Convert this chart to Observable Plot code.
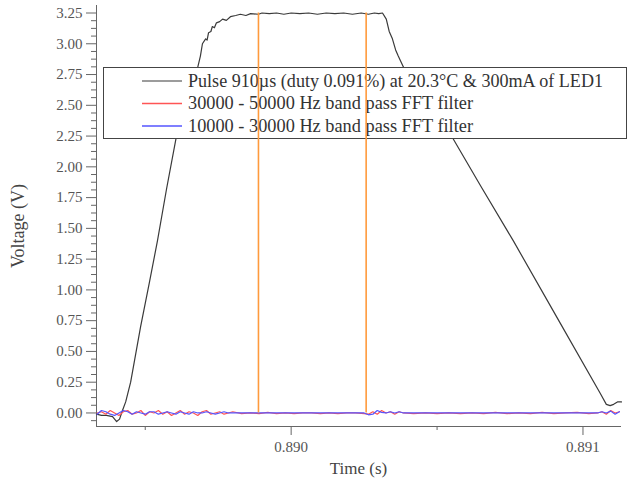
<!DOCTYPE html>
<html>
<head>
<meta charset="utf-8">
<script src="https://cdn.jsdelivr.net/npm/d3@7"></script>
<script src="https://cdn.jsdelivr.net/npm/@observablehq/plot@0.6"></script>
<style>
  body { margin: 0; background: #fff; }
  #chart svg { display: block; background: #fff; }
</style>
</head>
<body>
<div id="chart"></div>
<script>
// ---- data ----
const pulseT = [0.889333,0.889350,0.889367,0.889388,0.889402,0.889412,0.889422,0.889433,0.889450,0.889484,
  0.889515,0.889542,0.889573,0.889607,0.889641,0.889665,0.889679,0.889689,0.889696,0.889707,
  0.889712,0.889717,0.889725,0.889730,0.889737,0.889744,0.889755,0.889765,0.889778,0.889792,
  0.889810,0.889826,0.889845,0.889861,0.889888,0.889900,0.889925,0.889950,0.889975,0.890000,
  0.890030,0.890060,0.890090,0.890120,0.890150,0.890180,0.890210,0.890240,0.890265,0.890285,
  0.890300,0.890313,0.890326,0.890336,0.890347,0.890358,0.890367,0.890385,0.890443,0.890552,
  0.890648,0.890761,0.890922,0.891059,0.891080,0.891093,0.891105,0.891118,0.891132];
const pulseV = [-0.01,-0.02,-0.02,-0.03,-0.07,-0.05,0.02,0.09,0.25,0.70,
  1.07,1.40,1.82,2.25,2.56,2.72,2.80,2.90,3.00,3.04,
  3.03,3.09,3.10,3.14,3.13,3.17,3.18,3.20,3.19,3.22,
  3.23,3.24,3.23,3.245,3.24,3.25,3.245,3.25,3.24,3.25,
  3.245,3.25,3.24,3.25,3.245,3.25,3.24,3.25,3.24,3.25,
  3.245,3.25,3.20,3.10,3.04,2.95,2.90,2.81,2.61,2.24,
  1.85,1.40,0.73,0.16,0.07,0.06,0.07,0.09,0.09];

const noiseT = [0.889335,0.889350,0.889365,0.889380,0.889395,0.889410,0.889425,0.889440,0.889455,0.889470,
  0.889485,0.889500,0.889515,0.889530,0.889545,0.889560,0.889575,0.889590,0.889605,0.889620,
  0.889635,0.889650,0.889665,0.889680,0.889695,0.889710,0.889725,0.889740,0.889755,0.889770,
  0.889785,0.889800,
  0.889830,0.889860,0.889890,0.889920,0.889950,0.889980,0.890010,0.890040,0.890070,0.890100,
  0.890130,0.890160,0.890190,0.890220,0.890250,
  0.890265,0.890280,0.890295,0.890310,0.890325,0.890340,0.890355,0.890370,0.890385,
  0.890420,0.890460,0.890500,0.890540,0.890580,0.890620,0.890660,0.890700,0.890740,0.890780,
  0.890820,0.890860,0.890900,0.890940,0.890980,0.891020,0.891050,
  0.891065,0.891080,0.891095,0.891110,0.891125];
const redV = [0.00,0.01,-0.01,0.02,0.00,-0.02,0.01,0.02,-0.01,0.00,
  0.02,-0.02,0.01,0.00,0.02,-0.01,0.01,-0.02,0.00,0.02,
  -0.01,0.01,0.00,-0.02,0.01,0.02,-0.01,0.00,0.01,-0.01,
  0.00,0.01,
  -0.005,0.00,-0.005,0.005,-0.005,0.00,-0.005,0.00,0.00,-0.005,
  0.00,-0.005,0.00,0.00,-0.005,
  -0.01,0.01,-0.01,0.02,0.00,0.01,-0.01,0.01,0.00,
  -0.005,0.00,-0.005,0.00,-0.005,0.00,-0.005,0.005,-0.005,0.00,
  -0.005,0.005,-0.005,0.00,0.005,-0.005,0.00,
  0.01,-0.01,0.02,0.00,0.01];
const blueV = [-0.01,0.02,0.01,-0.01,-0.02,0.00,0.02,0.01,-0.01,0.01,
  0.00,-0.01,0.01,0.01,-0.01,0.00,0.01,0.00,-0.01,0.01,
  0.00,-0.01,0.01,0.00,0.00,0.01,0.00,-0.01,0.00,0.01,
  0.00,0.00,
  0.00,0.00,0.00,0.00,0.00,0.00,0.00,0.00,0.00,0.00,
  0.00,0.00,0.00,0.00,0.00,
  -0.015,-0.01,0.02,0.005,0.00,0.01,0.00,0.01,0.00,
  0.00,0.00,0.00,0.00,0.00,0.00,0.00,0.00,0.00,0.00,
  0.00,0.00,0.00,0.00,0.00,0.00,0.00,
  0.01,0.00,0.015,-0.01,0.01];

const markerT = [0.889888, 0.890257];
const markerV = [0, 3.25];

const yTicks = [0,0.25,0.5,0.75,1,1.25,1.5,1.75,2,2.25,2.5,2.75,3,3.25];
const yMinor = [0.0625,0.125,0.1875,0.3125,0.375,0.4375,0.5625,0.625,0.6875,0.8125,0.875,0.9375,
  1.0625,1.125,1.1875,1.3125,1.375,1.4375,1.5625,1.625,1.6875,1.8125,1.875,1.9375,
  2.0625,2.125,2.1875,2.3125,2.375,2.4375,2.5625,2.625,2.6875,2.8125,2.875,2.9375,
  3.0625,3.125,3.1875,-0.0625];
const xTicks = [0.890, 0.891];
const xMinor = [0.8895, 0.8905];
const xDomain = [0.889333, 0.891132];
const yDomain = [-0.11, 3.311];

const seriesLabels = [
  "Pulse 910µs (duty 0.091%) at 20.3°C & 300mA of LED1",
  "30000 - 50000 Hz band pass FFT filter",
  "10000 - 30000 Hz band pass FFT filter"
];
const seriesColors = ["#3a3a3a", "#ff5555", "#5555ff"];
const markerColor = "#ff9a3c";

// ---- build tables ----
const pulse = pulseT.map((t, i) => ({t, v: pulseV[i]}));
const red = noiseT.map((t, i) => ({t, v: redV[i]}));
const blue = noiseT.map((t, i) => ({t, v: blueV[i]}));

const W = 631, H = 480;
const mL = 96, mR = 10, mT = 5, mB = 54;
const serif = "'Liberation Serif', 'Times New Roman', serif";

const chart = Plot.plot({
  width: W, height: H,
  marginLeft: mL, marginRight: mR, marginTop: mT, marginBottom: mB,
  x: {domain: xDomain},
  y: {domain: yDomain},
  style: {fontFamily: serif, fontSize: "15px", color: "#555", background: "#fff"},
  marks: [
    Plot.axisY({ticks: yMinor, tickSize: 5, tickFormat: () => "", label: null, stroke: "#666"}),
    Plot.axisY({ticks: yTicks, tickSize: 10, tickPadding: 4, tickFormat: d3.format(".2f"), label: null, stroke: "#666", fill: "#555"}),
    Plot.axisX({ticks: xMinor, tickSize: 4, tickFormat: () => "", label: null, stroke: "#666"}),
    Plot.axisX({ticks: xTicks, tickSize: 9, tickPadding: 6, tickFormat: d3.format(".3f"), label: null, stroke: "#666", fill: "#555"}),
    Plot.ruleX([xDomain[0]], {stroke: "#666"}),
    Plot.ruleY([yDomain[0]], {stroke: "#666"}),
    Plot.line(pulse, {x: "t", y: "v", stroke: seriesColors[0], strokeWidth: 1.2}),
    Plot.line(red, {x: "t", y: "v", stroke: seriesColors[1], strokeWidth: 1.2}),
    Plot.line(blue, {x: "t", y: "v", stroke: seriesColors[2], strokeWidth: 1.2}),
    Plot.ruleX(markerT, {y1: markerV[0], y2: markerV[1], stroke: markerColor, strokeWidth: 1.6})
  ]
});

document.getElementById("chart").append(chart);

const svg = d3.select(chart);

// legend (opaque box; orange markers drawn above it)
const rules = chart.querySelectorAll('g[aria-label="rule"]');
const lastRule = rules[rules.length - 1];
const lg = document.createElementNS("http://www.w3.org/2000/svg", "g");
chart.insertBefore(lg, lastRule);
const L = d3.select(lg).attr("text-anchor", "start");
L.append("rect").attr("x", 103.5).attr("y", 67.5).attr("width", 523).attr("height", 71)
  .attr("fill", "#fff").attr("stroke", "#444").attr("stroke-width", 1);
const rowY = [81, 103.5, 126];
const textLen = [415, 285, 285];
seriesLabels.forEach((lab, i) => {
  L.append("line").attr("x1", 142).attr("x2", 182).attr("y1", rowY[i]).attr("y2", rowY[i])
    .attr("stroke", seriesColors[i]).attr("stroke-width", i === 0 ? 1.2 : 1.6);
  L.append("text").attr("x", 188).attr("y", rowY[i]).attr("dy", "0.33em")
    .attr("text-anchor", "start")
    .attr("font-family", serif).attr("font-size", 18).attr("fill", "#333")
    .attr("textLength", textLen[i]).attr("lengthAdjust", "spacingAndGlyphs")
    .text(lab);
});

// axis titles
svg.append("text").attr("transform", "translate(18,226) rotate(-90)")
  .attr("text-anchor", "middle").attr("dy", "0.33em")
  .attr("font-family", serif).attr("font-size", 18).attr("fill", "#444")
  .text("Voltage (V)");
svg.append("text").attr("x", (mL + W - mR) / 2).attr("y", 474)
  .attr("text-anchor", "middle")
  .attr("font-family", serif).attr("font-size", 17).attr("fill", "#444")
  .text("Time (s)");
</script>
</body>
</html>
